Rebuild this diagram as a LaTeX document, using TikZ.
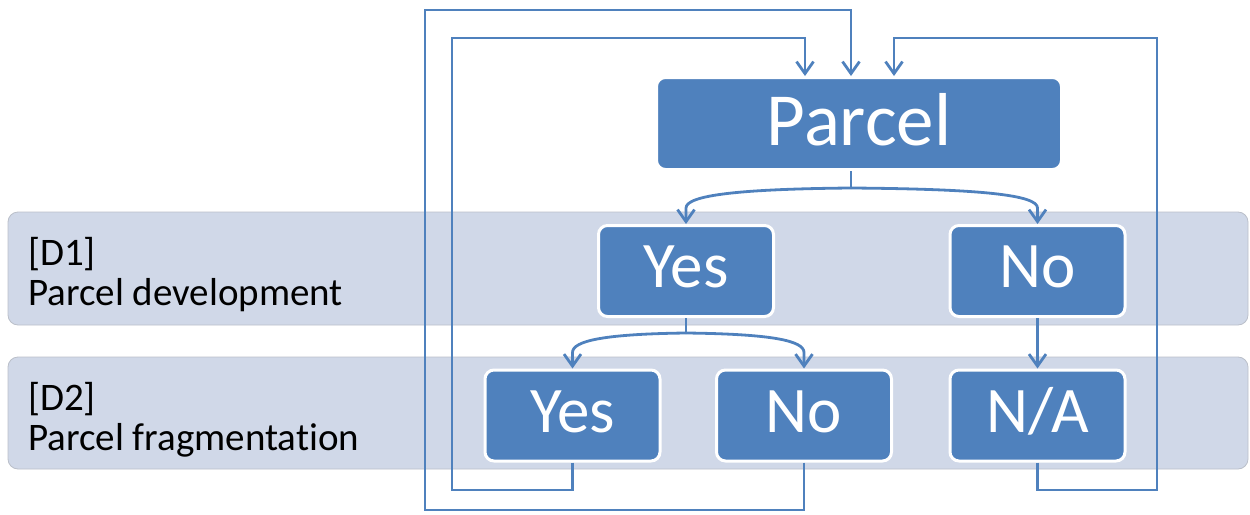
\documentclass[tikz,border=0pt]{standalone}
\usepackage{fontspec}
\setmainfont{Carlito}[Ligatures=NoCommon]
\usetikzlibrary{arrows.meta, positioning, calc}

\definecolor{boxblue}{RGB}{79,129,189}
\definecolor{bandblue}{RGB}{208,216,232}
\definecolor{bandedge}{RGB}{186,191,201}

\begin{document}
\begin{tikzpicture}[x=1pt, y=-1pt,
    choice/.style={draw=white, line width=3pt, fill=boxblue, rounded corners=9pt, text=white, minimum width=175pt, minimum height=91pt, inner sep=0pt, text height=41pt, text depth=8pt, font=\fontsize{65}{65}\selectfont},
    top/.style={choice, minimum width=405pt, minimum height=92pt, text height=47pt, text depth=3pt, font=\fontsize{75}{75}\selectfont},
    band/.style={fill=bandblue, draw=bandedge, line width=0.8pt, rounded corners=10pt},
    lbl/.style={anchor=base west, inner sep=0pt, font=\fontsize{39}{40}\selectfont},
    link/.style={draw=boxblue, line width=2.8pt},
    arr/.style={link, -{Straight Barb[length=12pt, width=17pt]}},
]
\useasboundingbox (0,0) rectangle (1250,514);

% Bands
\fill[band] (8,212) rectangle (1248,325);
\fill[band] (8,357) rectangle (1248,469);

% Band labels
\node[lbl] (d1tag) at (28,265) {[D1]};
\node[lbl] (d1name) at (28,305) {Parcel development};
\node[lbl] (d2tag) at (28,410) {[D2]};
\node[lbl] (d2name) at (28,450) {Parcel fragmentation};

% Parcel
\node[top] (parcel) at (859,123.5) {Parcel};

% D1
\node[choice] (yes1) at (686,271) {Yes};
\node[choice] (no1) at (1037.5,271) {No};

% D2
\node[choice] (yes2) at (572.5,415.5) {Yes};
\node[choice] (no2) at (804,415.5) {No};
\node[choice] (na) at (1037.5,415.5) {N/A};

% Forks
\coordinate (fork1) at (851,188);
\coordinate (fork2) at (686,333);
\draw[link] ([xshift=-8pt]parcel.south) -- (fork1);
\draw[arr] (fork1) .. controls +(-110,1) and +(0,-13) .. ($(yes1.north)+(0,-16)$) -- (yes1.north);
\draw[arr] (fork1) .. controls +(130,1) and +(0,-13) .. ($(no1.north)+(0,-16)$) -- (no1.north);
\draw[link] (yes1.south) -- (fork2);
\draw[arr] (fork2) .. controls +(-80,1) and +(0,-12) .. ($(yes2.north)+(0,-16)$) -- (yes2.north);
\draw[arr] (fork2) .. controls +(85,1) and +(0,-12) .. ($(no2.north)+(0,-16)$) -- (no2.north);
\draw[arr] (no1.south) -- (na.north);

% Loops back to parcel
\coordinate (top1) at (425,10);
\coordinate (bot1) at (425,510);
\coordinate (top2) at (452,38);
\coordinate (bot2) at (452,490);
\coordinate (top3) at (1157,38);
\coordinate (bot3) at (1157,490);
\draw[arr] (no2.south) |- (bot1) -- (top1) -| ([xshift=-8pt]parcel.north);
\draw[arr] (yes2.south) |- (bot2) -- (top2) -| ([xshift=-54pt]parcel.north);
\draw[arr] (na.south) |- (bot3) -- (top3) -| ([xshift=35pt]parcel.north);
\end{tikzpicture}
\end{document}
